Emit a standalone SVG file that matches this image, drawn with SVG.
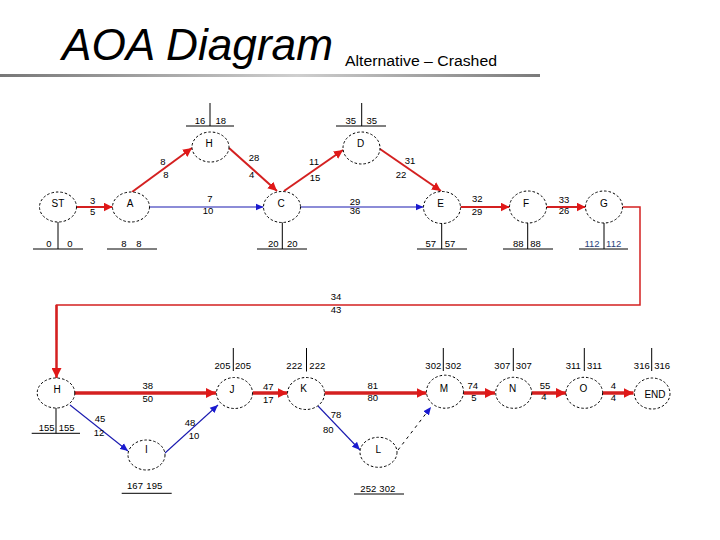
<svg xmlns="http://www.w3.org/2000/svg" width="720" height="540" viewBox="0 0 720 540">
<style>
.node ellipse{fill:#fff;stroke:#000;stroke-width:1;stroke-dasharray:2.5,2}
.nl{font-family:"Liberation Sans",Arial,sans-serif;font-size:10px;fill:#000;text-anchor:middle}
.lb{font-family:"Liberation Sans",Arial,sans-serif;font-size:9.5px;fill:#000;text-anchor:middle}
.tk{stroke:#000;stroke-width:1;fill:none}
.rs{stroke:#d42020;stroke-width:2;fill:none;marker-end:url(#ar)}
.rt{stroke:#d42020;stroke-width:3.5;fill:none;marker-end:url(#arl)}
.bl{stroke:#1a1ab0;stroke-width:1.1;fill:none;marker-end:url(#ab)}
</style>
<defs>
<marker id="ar" markerUnits="userSpaceOnUse" markerWidth="9" markerHeight="9" refX="9" refY="4.5" orient="auto"><path d="M0,0L9,4.5L0,9z" fill="#e01818"/></marker>
<marker id="arl" markerUnits="userSpaceOnUse" markerWidth="10" markerHeight="10" refX="10" refY="5" orient="auto"><path d="M0,0L10,5L0,10z" fill="#e01818"/></marker>
<marker id="ab" markerUnits="userSpaceOnUse" markerWidth="8" markerHeight="8" refX="8" refY="4" orient="auto"><path d="M0,0.5L8,4L0,7.5z" fill="#1a1ad0"/></marker>
<linearGradient id="rule" x1="0" y1="0" x2="1" y2="0">
<stop offset="0" stop-color="#777"/><stop offset="0.55" stop-color="#cfcfcf"/><stop offset="1" stop-color="#7a7a7a"/>
</linearGradient>
</defs>

<g id="title">
<text x="62" y="60" font-family="Liberation Sans,Arial,sans-serif" font-style="italic" font-size="44" textLength="271" lengthAdjust="spacingAndGlyphs">AOA Diagram</text>
<text x="345" y="66" font-family="Liberation Sans,Arial,sans-serif" font-size="15.5" textLength="152" lengthAdjust="spacingAndGlyphs">Alternative – Crashed</text>
<rect x="0" y="74" width="540" height="3" fill="url(#rule)"/>
</g>

<g id="connectors">
<line class="rs" x1="76.5" y1="207" x2="112.5" y2="207"/>
<line class="rs" x1="132" y1="192" x2="192" y2="148"/>
<line class="bl" x1="149.5" y1="207" x2="263.5" y2="207"/>
<line class="rs" x1="229" y1="148" x2="277" y2="191"/>
<line class="rs" x1="284" y1="191" x2="343" y2="150"/>
<line class="rs" x1="380" y1="149" x2="441" y2="191"/>
<line class="bl" x1="300.5" y1="207" x2="423.5" y2="207"/>
<line class="rs" x1="460.5" y1="207" x2="509.5" y2="207"/>
<line class="rs" x1="546.5" y1="207" x2="585.5" y2="207"/>
<polyline points="622.5,207 640,207 640,305 56.5,305 56.5,340" stroke="#d42020" stroke-width="1.5" fill="none"/>
<line x1="56.5" y1="305" x2="56.5" y2="378" stroke="#d42020" stroke-width="2.5" marker-end="url(#arl)"/>
<line class="rt" x1="74.5" y1="393" x2="216" y2="393"/>
<line class="bl" x1="70" y1="405" x2="128" y2="451"/>
<line class="bl" x1="165" y1="453" x2="218" y2="405"/>
<line class="rt" x1="253" y1="393" x2="287.5" y2="393"/>
<line class="rt" x1="324.5" y1="393" x2="426.5" y2="393"/>
<line class="bl" x1="318" y1="406" x2="360" y2="450"/>
<line x1="398" y1="450" x2="431" y2="407" stroke="#000" stroke-width="1" stroke-dasharray="3,4" marker-end="url(#ab)"/>
<line class="rt" x1="463.5" y1="393" x2="495" y2="393"/>
<line class="rt" x1="532" y1="393" x2="566" y2="393"/>
<line class="rt" x1="603" y1="393" x2="633.5" y2="393"/>
</g>

<g id="arrow-labels">
<text class="lb" x="92.7" y="203.5">3</text><text class="lb" x="92.7" y="215">5</text>
<text class="lb" x="163" y="165">8</text><text class="lb" x="166" y="177.5">8</text>
<text class="lb" x="210" y="201.5">7</text><text class="lb" x="208" y="214">10</text>
<text class="lb" x="254" y="160.5">28</text><text class="lb" x="251.7" y="177.5">4</text>
<text class="lb" x="314" y="165">11</text><text class="lb" x="315" y="181">15</text>
<text class="lb" x="410" y="163.5">31</text><text class="lb" x="401" y="177.5">22</text>
<text class="lb" x="355" y="204.5">29</text><text class="lb" x="355" y="214">36</text>
<text class="lb" x="477.3" y="202">32</text><text class="lb" x="477" y="214.5">29</text>
<text class="lb" x="564" y="202.5">33</text><text class="lb" x="564" y="214">26</text>
<text class="lb" x="336" y="299.5">34</text><text class="lb" x="336" y="312.5">43</text>
<text class="lb" x="147.7" y="389">38</text><text class="lb" x="147.7" y="402">50</text>
<text class="lb" x="100" y="422">45</text><text class="lb" x="99" y="436">12</text>
<text class="lb" x="190" y="426">48</text><text class="lb" x="194" y="439">10</text>
<text class="lb" x="268.3" y="390.3">47</text><text class="lb" x="268.3" y="402.5">17</text>
<text class="lb" x="372.7" y="388.5">81</text><text class="lb" x="372.7" y="401">80</text>
<text class="lb" x="336" y="417.5">78</text><text class="lb" x="328.3" y="432.5">80</text>
<text class="lb" x="472.7" y="388.5">74</text><text class="lb" x="474" y="401">5</text>
<text class="lb" x="545" y="388.5">55</text><text class="lb" x="544" y="399.5">4</text>
<text class="lb" x="613.3" y="388.5">4</text><text class="lb" x="613.3" y="401">4</text>
</g>

<g id="node-ST" class="node">
<ellipse cx="58" cy="207" rx="18.5" ry="15"/><text class="nl" x="58" y="207">ST</text>
<path class="tk" d="M58,222V249M33,249H83"/><text class="lb" x="49" y="247.3">0</text><text class="lb" x="70" y="247.3">0</text>
</g>
<g id="node-A" class="node">
<ellipse cx="131" cy="207" rx="18.5" ry="15"/><text class="nl" x="130" y="207">A</text>
<path class="tk" d="M107,249H157"/><text class="lb" x="124" y="247.3">8</text><text class="lb" x="139" y="247.3">8</text>
</g>
<g id="node-H" class="node">
<ellipse cx="210.5" cy="147" rx="18.5" ry="15"/><text class="nl" x="209" y="147">H</text>
<path class="tk" d="M210,103V126M186,126H234"/><text class="lb" x="200" y="124">16</text><text class="lb" x="220.7" y="124">18</text>
</g>
<g id="node-C" class="node">
<ellipse cx="282" cy="207" rx="18.5" ry="15.5"/><text class="nl" x="281" y="207">C</text>
<path class="tk" d="M282.3,222.5V249M257,249H307"/><text class="lb" x="273.3" y="247.3">20</text><text class="lb" x="292.3" y="247.3">20</text>
</g>
<g id="node-D" class="node">
<ellipse cx="361.5" cy="148" rx="18.5" ry="16"/><text class="nl" x="360.5" y="147">D</text>
<path class="tk" d="M361.7,103V126M336,126H386"/><text class="lb" x="350.7" y="124">35</text><text class="lb" x="371.7" y="124">35</text>
</g>
<g id="node-E" class="node">
<ellipse cx="442" cy="207.5" rx="18.5" ry="16"/><text class="nl" x="440.5" y="207">E</text>
<path class="tk" d="M441.7,223.5V249M417,249H467"/><text class="lb" x="430.7" y="247.3">57</text><text class="lb" x="450" y="247.3">57</text>
</g>
<g id="node-F" class="node">
<ellipse cx="528" cy="207" rx="18.5" ry="16"/><text class="nl" x="526" y="207">F</text>
<path class="tk" d="M527.7,223V249M503,249H553"/><text class="lb" x="518.3" y="247.3">88</text><text class="lb" x="535.5" y="247.3">88</text>
</g>
<g id="node-G" class="node">
<ellipse cx="604" cy="207" rx="18.5" ry="16"/><text class="nl" x="604" y="207">G</text>
<path class="tk" d="M604,223V249M579,249H628"/><text class="lb" x="592" y="247.3" style="fill:#2a3f7a">112</text><text class="lb" x="613.7" y="247.3" style="fill:#2a3f7a">112</text>
</g>
<g id="node-H2" class="node">
<ellipse cx="56" cy="393" rx="18.8" ry="15"/><text class="nl" x="57" y="393">H</text>
<path class="tk" d="M56,408V433.3M31.7,433.3H80"/><text class="lb" x="46.7" y="431">155</text><text class="lb" x="66.7" y="431">155</text>
</g>
<g id="node-I" class="node">
<ellipse cx="146.5" cy="455" rx="18.5" ry="15"/><text class="nl" x="146.5" y="453">I</text>
<path class="tk" d="M121.7,493.3H171.7"/><text class="lb" x="135" y="489.3">167</text><text class="lb" x="154.3" y="489.3">195</text>
</g>
<g id="node-J" class="node">
<ellipse cx="234.5" cy="393" rx="18" ry="15.5"/><text class="nl" x="232" y="393">J</text>
<path class="tk" d="M233.3,348V371"/><text class="lb" x="222.5" y="369.3">205</text><text class="lb" x="243" y="369.3">205</text>
</g>
<g id="node-K" class="node">
<ellipse cx="306" cy="393.5" rx="18.5" ry="16"/><text class="nl" x="303.5" y="392">K</text>
<path class="tk" d="M306.5,348V371.5"/><text class="lb" x="294.3" y="369.3">222</text><text class="lb" x="317.3" y="369.3">222</text>
</g>
<g id="node-L" class="node">
<ellipse cx="378.5" cy="452.3" rx="18.5" ry="15"/><text class="nl" x="378.3" y="453">L</text>
<path class="tk" d="M354,494H404"/><text class="lb" x="368.3" y="491.7">252</text><text class="lb" x="387.3" y="491.7">302</text>
</g>
<g id="node-M" class="node">
<ellipse cx="445" cy="391.7" rx="18.5" ry="16.5"/><text class="nl" x="444" y="392">M</text>
<path class="tk" d="M443.3,348V371"/><text class="lb" x="433.3" y="369.3">302</text><text class="lb" x="453.3" y="369.3">302</text>
</g>
<g id="node-N" class="node">
<ellipse cx="513.7" cy="392.8" rx="18" ry="15.5"/><text class="nl" x="512.7" y="392">N</text>
<path class="tk" d="M513.3,348V371"/><text class="lb" x="502.3" y="369.3">307</text><text class="lb" x="523.8" y="369.3">307</text>
</g>
<g id="node-O" class="node">
<ellipse cx="584.3" cy="392.8" rx="18.3" ry="15.5"/><text class="nl" x="583.3" y="392">O</text>
<path class="tk" d="M584.3,348V371"/><text class="lb" x="573.3" y="369.3">311</text><text class="lb" x="594.5" y="369.3">311</text>
</g>
<g id="node-END" class="node">
<ellipse cx="652.2" cy="393.5" rx="17.8" ry="15.5"/><text class="nl" x="655" y="397.5">END</text>
<path class="tk" d="M651.7,348V371"/><text class="lb" x="641.8" y="369.3">316</text><text class="lb" x="662.2" y="369.3">316</text>
</g>
</svg>
